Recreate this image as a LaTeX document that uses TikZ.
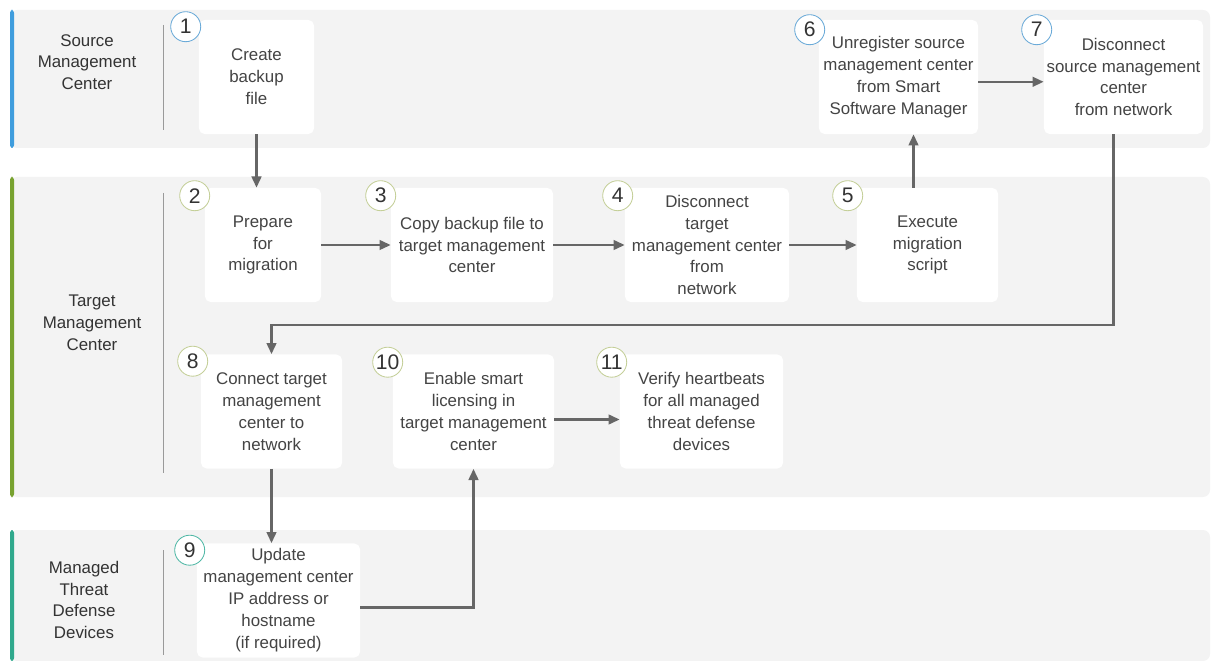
\documentclass[tikz,border=0pt]{standalone}
\usepackage{fontspec}
\setmainfont{Liberation Sans}
\usetikzlibrary{arrows.meta, positioning, calc}
\definecolor{lanebg}{HTML}{F3F3F3}
\definecolor{flowgray}{HTML}{666666}
\definecolor{boxtext}{HTML}{444444}
\definecolor{srcblue}{HTML}{3F9DDD}
\definecolor{tgtgreen}{HTML}{78A22F}
\definecolor{ftdteal}{HTML}{2FA88C}
\definecolor{srcring}{HTML}{6AAAD8}
\definecolor{tgtring}{HTML}{C4CF98}
\definecolor{ftdring}{HTML}{50B8A6}

\begin{document}
\begin{tikzpicture}[
    x=0.025cm, y=-0.025cm,
    lane/.style={fill=lanebg, rounded corners=5pt},
    lanelabel/.style={align=center, text=black!80, font=\fontsize{12}{15.5}\selectfont},
    sep/.style={draw=black!40, line width=0.7pt},
    stepbox/.style={fill=white, rounded corners=4pt, align=center, inner sep=1pt,
        minimum height=2.85cm, text=boxtext, font=\fontsize{12}{15.6}\selectfont},
    num/.style={circle, draw=#1, fill=white, line width=0.6pt, minimum size=0.75cm,
        inner sep=0pt, text=black!80, font=\fontsize{15}{15}\selectfont},
    flow/.style={draw=flowgray, line width=1.8pt, -{Triangle[length=0.28cm, width=0.24cm]}}
]
    \useasboundingbox (0,0) rectangle (1220,661);

    % swim lanes
    \fill[lane] (10,10) rectangle (1210,148);
    \fill[lane] (10,177) rectangle (1210,497);
    \fill[lane] (10,530) rectangle (1210,661);
    \fill[srcblue, rounded corners=2pt] (10,10) rectangle (14,148);
    \fill[tgtgreen, rounded corners=2pt] (10,177) rectangle (14,497);
    \fill[ftdteal, rounded corners=2pt] (10,530) rectangle (14,661);
    \draw[sep] (163,25) -- (163,130);
    \draw[sep] (163,193) -- (163,473);
    \draw[sep] (163,550) -- (163,655);

    \node[lanelabel] (src) at (87,62) {Source\\Management\\Center};
    \node[lanelabel] (tgt) at (92,323) {Target\\Management\\Center};
    \node[lanelabel] (ftd) at (84,600) {Managed\\Threat\\Defense\\Devices};

    % steps
    \node[stepbox, minimum width=2.875cm] (b1) at (256.5,77) {Create\\backup\\file};
    \node[stepbox, minimum width=3.975cm] (b6) at (898.5,77) {Unregister source\\management center\\from Smart\\Software Manager};
    \node[stepbox, minimum width=3.975cm] (b7) at (1123.5,77) {Disconnect\\source management\\center\\from network};
    \node[stepbox, minimum width=2.9cm] (b2) at (263,245) {Prepare\\for\\migration};
    \node[stepbox, minimum width=4.05cm] (b3) at (472,245) {Copy backup file to\\target management\\center};
    \node[stepbox, minimum width=4.1cm] (b4) at (707,245) {Disconnect\\target\\management center\\from\\network};
    \node[stepbox, minimum width=3.525cm] (b5) at (927.5,245) {Execute\\migration\\script};
    \node[stepbox, minimum width=3.525cm] (b8) at (271.5,411.5) {Connect target\\management\\center to\\network};
    \node[stepbox, minimum width=4.025cm] (b10) at (473.5,411.5) {Enable smart\\licensing in\\target management\\center};
    \node[stepbox, minimum width=4.075cm] (b11) at (701.5,411.5) {Verify heartbeats\\for all managed\\threat defense\\devices};
    \node[stepbox, minimum width=4.075cm] (b9) at (278.5,600.5) {Update\\management center\\IP address or\\hostname\\(if required)};

    % step numbers
    \node[num=srcring] (n1) at ([shift={(-13,7)}]b1.north west) {1};
    \node[num=srcring] (n6) at ([shift={(-9,10)}]b6.north west) {6};
    \node[num=srcring] (n7) at ([shift={(-7,10)}]b7.north west) {7};
    \node[num=tgtring] (n2) at ([shift={(-10,8)}]b2.north west) {2};
    \node[num=tgtring] (n3) at ([shift={(-10,8)}]b3.north west) {3};
    \node[num=tgtring] (n4) at ([shift={(-7,8)}]b4.north west) {4};
    \node[num=tgtring] (n5) at ([shift={(-9,8)}]b5.north west) {5};
    \node[num=tgtring] (n8) at ([shift={(-8,7)}]b8.north west) {8};
    \node[num=tgtring] (n10) at ([shift={(-5,8)}]b10.north west) {10};
    \node[num=tgtring] (n11) at ([shift={(-8,8)}]b11.north west) {11};
    \node[num=ftdring] (n9) at ([shift={(-7,7)}]b9.north west) {9};

    % flow
    \draw[flow] (b1.south) -- (b1.south |- b2.north);
    \draw[flow] (b2) -- (b3);
    \draw[flow] (b3) -- (b4);
    \draw[flow] (b4) -- (b5);
    \draw[flow] ([xshift=-0.35cm]b5.north) -- ([xshift=-0.35cm]b5.north |- b6.south);
    \draw[flow] ([yshift=-0.12cm]b6.east) -- ([yshift=-0.12cm]b7.west);
    \draw[flow] ([xshift=-0.25cm]b7.south) |- ($(b8.north)+(0,-29)$) -- (b8.north);
    \draw[flow] (b8.south) -- (b8.south |- b9.north);
    \draw[flow] ([yshift=-0.17cm]b9.east) -| (b10.south);
    \draw[flow] ([yshift=-0.2cm]b10.east) -- ([yshift=-0.2cm]b11.west);
\end{tikzpicture}
\end{document}
